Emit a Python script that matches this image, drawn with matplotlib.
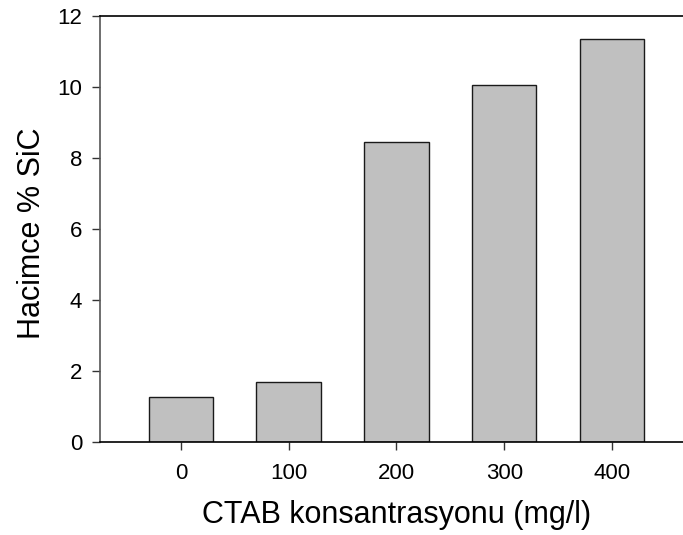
import matplotlib
matplotlib.use("Agg")
import matplotlib.pyplot as plt

plt.rcParams['font.family'] = ['Liberation Sans', 'DejaVu Sans']

categories = ["0", "100", "200", "300", "400"]
values = [1.26, 1.67, 8.45, 10.05, 11.35]
yticks = [0, 2, 4, 6, 8, 10, 12]

fig = plt.figure(figsize=(6.83, 5.35), dpi=100)
ax = fig.add_axes([0.1469, 0.1744, 0.8672, 0.7963])

x = list(range(len(categories)))
ax.bar(x, values, width=0.6, color='#c0c0c0', edgecolor='#1a1a1a', linewidth=1.0, zorder=2)

ax.set_xlim(-0.75, 4.75)
ax.set_ylim(0, 12)
ax.set_xticks(x)
ax.set_xticklabels(categories)
ax.set_yticks(yticks)
ax.set_yticklabels([str(t) for t in yticks])

ax.spines['right'].set_visible(False)
ax.spines['left'].set_color('#555555')
ax.spines['left'].set_linewidth(1.2)
ax.spines['bottom'].set_color('black')
ax.spines['bottom'].set_linewidth(1.2)
ax.spines['top'].set_color('black')
ax.spines['top'].set_linewidth(1.2)

ax.tick_params(axis='both', direction='out', length=6, width=1.0, color='#333333',
               labelsize=16)
ax.tick_params(axis='y', pad=7)
ax.tick_params(axis='x', pad=9)

ax.set_xlabel("CTAB konsantrasyonu (mg/l)", fontsize=22, labelpad=12)
ax.set_ylabel("Hacimce % SiC", fontsize=22)
ax.yaxis.set_label_coords(-0.09, 0.49)

fig.savefig("out.png", dpi=100)
